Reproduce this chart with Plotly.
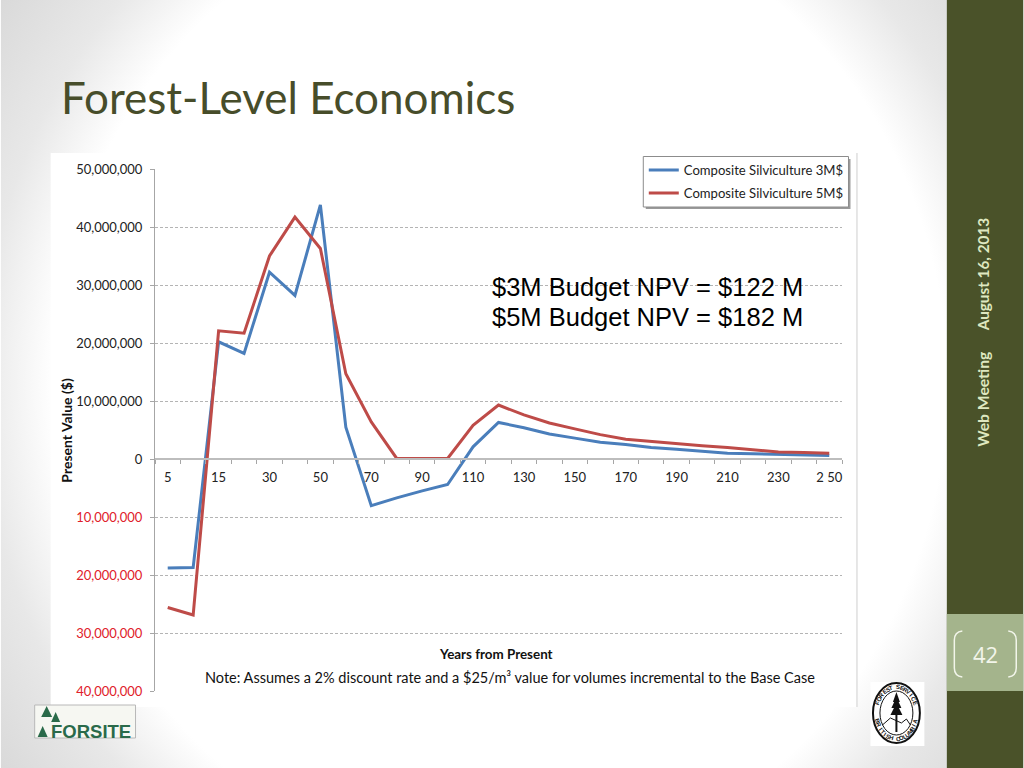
import math
import plotly.graph_objects as go

years = ["5","10","15","20","30","40","50","60","70","80","90","100","110","120","130","140","150","160","170","180","190","200","210","220","230","240","250"]
silv_3m = [-18.8,-18.7,20.2,18.2,32.2,28.2,43.8,5.5,-8.05,-6.7,-5.5,-4.4,2.1,6.3,5.4,4.3,3.6,2.9,2.5,2.0,1.7,1.3,1.0,0.9,0.8,0.7,0.6]
silv_5m = [-25.6,-26.9,22.1,21.7,35.0,41.7,36.3,14.7,6.4,0.1,0.1,0.1,5.8,9.3,7.6,6.2,5.2,4.2,3.4,3.0,2.7,2.3,2.0,1.6,1.2,1.1,1.0]
y_ticks = [50,40,30,20,10,0,-10,-20,-30,-40]
y_labels = ["50,000,000","40,000,000","30,000,000","20,000,000","10,000,000","0","10,000,000","20,000,000","30,000,000","40,000,000"]
x_labels = ["5","","15","","30","","50","","70","","90","","110","","130","","150","","170","","190","","210","","230","","2 50"]

L, R, T, B = 154.5, 842.5, 169.0, 691.0
def fx(p): return (p - L) / (R - L)
def fy(p): return (B - p) / (B - T)

OLIVE = "#4a5229"
shapes, anns = [], []
def rect(x0, y0, x1, y1, fill, line=None, lw=1, layer="above"):
    shapes.append(dict(type="rect", xref="paper", yref="paper", x0=fx(x0), x1=fx(x1), y0=fy(y0), y1=fy(y1),
                       fillcolor=fill, line=dict(color=line or fill, width=lw if line else 0), layer=layer))
def path(pts, fill=None, line=None, lw=1, layer="above"):
    shapes.append(dict(type="path", xref="paper", yref="paper", path=pts, fillcolor=fill or "rgba(0,0,0,0)",
                       line=dict(color=line or "rgba(0,0,0,0)", width=lw), layer=layer))
def P(x, y): return f"{fx(x):.5f},{fy(y):.5f}"
def tri(x, y0, y1, hw, col):
    path(f"M{P(x,y0)} L{P(x+hw,y1)} L{P(x-hw,y1)} Z", fill=col)
def ell(cx, cy, rx, ry, fill, line, lw):
    shapes.append(dict(type="circle", xref="paper", yref="paper", x0=fx(cx-rx), x1=fx(cx+rx), y0=fy(cy+ry), y1=fy(cy-ry),
                       fillcolor=fill, line=dict(color=line, width=lw), layer="above"))
def text(x, y, s, size, color, font="Lato", xa="center", angle=0, ya="middle"):
    anns.append(dict(xref="paper", yref="paper", x=fx(x), y=fy(y), text=s, showarrow=False, xanchor=xa, yanchor=ya,
                     textangle=angle, font=dict(family=font, size=size, color=color)))

# chart card
rect(50, 153, 858, 707, "white", layer="below")
shapes.append(dict(type="line", xref="paper", yref="paper", x0=fx(857.5), x1=fx(857.5), y0=fy(153), y1=fy(707),
                   line=dict(color="#cfcfcf", width=1), layer="below"))
# side panel
rect(947.5, 0, 1024, 768, OLIVE)
rect(947.5, 614, 1024, 691, "#a4b48c")
path(f"M{P(963,631)} Q{P(955,632)} {P(955,640)} L{P(955,668)} Q{P(955,676)} {P(963,677)}", line="#f2f5ea", lw=1.5)
path(f"M{P(1009,631)} Q{P(1017,632)} {P(1017,640)} L{P(1017,668)} Q{P(1017,676)} {P(1009,677)}", line="#f2f5ea", lw=1.5)
text(986, 654, "42", 22, "#f2f5ea", font="Open Sans")
text(983.5, 274.5, "<b>August 16, 2013</b>", 15.3, "#dfe8c0", font="Lato", angle=-90)
text(983.5, 399, "<b>Web Meeting</b>", 15.7, "#dfe8c0", font="Lato", angle=-90)
# title
text(58.5, 97, "Forest-Level Economics", 44, "#474d2a", xa="left")
# legend box
rect(646, 159, 851, 209, "#9a9a9a")
rect(643.5, 156.5, 849, 207, "white", line="#8c8c8c", lw=1)
# texts
text(490, 287, "$3M Budget NPV = $122 M", 25.5, "black", font="Liberation Sans", xa="left")
text(490, 317, "$5M Budget NPV = $182 M", 25.5, "black", font="Liberation Sans", xa="left")
text(495.5, 654, "<b>Years from Present</b>", 13.4, "#111111")
text(510.5, 677, "Note: Assumes a 2% discount rate and a $25/m³ value for volumes incremental to the Base Case", 14.5, "#111111")
text(65, 430, "<b>Present Value ($)</b>", 14, "#111111", angle=-90)
# FORSITE logo
rect(34, 705, 135, 738, "#f6f7f2", line="#b8b8b8", lw=1)
G = "#2a6a4a"
tri(46, 706, 717, 5.5, G); tri(55, 712, 722, 4.5, G); tri(42, 726, 737, 5, G)
text(90, 731.5, "<b>FORSITE</b>", 18.5, G, font="Liberation Sans")
# Forest Service seal
rect(871, 682, 925, 746, "white")
cx, cy = 897, 713
ell(cx, cy, 23.5, 30, "white", "#111111", 2)
ell(cx, cy, 16.5, 22, "white", "#111111", 1)
for i, ch in enumerate("FOREST SERVICE"):
    th = math.radians(-68 + i * 136 / 13)
    text(cx + 20 * math.sin(th), cy - 26 * math.cos(th), f"<b>{ch}</b>", 6, "#111111", font="Liberation Sans", angle=math.degrees(th))
for i, ch in enumerate("BRITISH COLUMBIA"):
    ph = math.radians(-72 + i * 144 / 15)
    text(cx + 20 * math.sin(ph), cy + 26 * math.cos(ph), f"<b>{ch}</b>", 6, "#111111", font="Liberation Sans", angle=-math.degrees(ph))
for y0, y1, hw in [(692, 702, 3.5), (697, 708, 5), (703, 715, 6)]:
    tri(cx, y0, y1, hw, "#111111")
rect(cx - 1, 712, cx + 1, 732, "#111111")
path(f"M{P(cx-14,725)} L{P(cx-6,718)} L{P(cx+5,723)} L{P(cx+10,719)} L{P(cx+14,725)}", line="#111111", lw=1)

bg = ("data:image/svg+xml;utf8," +
      "<svg xmlns='http://www.w3.org/2000/svg' width='1024' height='768'>"
      "<defs><radialGradient id='g' gradientUnits='userSpaceOnUse' cx='0' cy='0' r='1.4' "
      "gradientTransform='translate(500 384) scale(470 511)'>"
      "<stop offset='0.68' stop-color='%23ffffff'/><stop offset='0.79' stop-color='%23e8e8e8'/>"
      "<stop offset='1' stop-color='%23d2d2d2'/></radialGradient></defs>"
      "<rect width='1024' height='768' fill='url(%23g)'/></svg>")

fig = go.Figure()
fig.add_trace(go.Scatter(x=years, y=[v * 1e6 for v in silv_3m], mode="lines", name="Composite Silviculture 3M$", legendgroup="a",
                         line=dict(color="#4a7ebb", width=3), cliponaxis=False))
fig.add_trace(go.Scatter(x=years, y=[v * 1e6 for v in silv_5m], mode="lines", name="Composite Silviculture 5M$", legendgroup="b",
                         line=dict(color="#be4b48", width=3), cliponaxis=False))

def y_text(v, s):
    return f'<span style="color:#e0202a">{s}</span>' if v < 0 else s

fig.update_layout(
    width=1024, height=768, autosize=False,
    margin=dict(l=L, r=1024 - R, t=T, b=768 - B, pad=0),
    paper_bgcolor="white", plot_bgcolor="rgba(0,0,0,0)",
    font=dict(family="Lato", size=13, color="#222222"),
    images=[dict(source=bg, xref="paper", yref="paper", x=fx(0), y=fy(0), sizex=1024 / (R - L), sizey=768 / (B - T),
                 sizing="stretch", xanchor="left", yanchor="top", layer="below")],
    shapes=shapes, annotations=anns,
    legend=dict(x=fx(644), y=fy(155), xanchor="left", yanchor="top", bgcolor="rgba(0,0,0,0)", borderwidth=0,
                font=dict(family="Lato", size=13.1, color="#222222"), itemwidth=30, tracegroupgap=3, traceorder="grouped"),
    xaxis=dict(type="category", categoryorder="array", categoryarray=years, range=[-0.5, 26.5],
               tickmode="array", tickvals=years, ticktext=x_labels, tickson="boundaries", ticks="outside", ticklen=4,
               tickcolor="#a6a6a6", showline=True, linecolor="#bdbdbd", linewidth=1.5, showgrid=False, zeroline=False,
               anchor="free", position=(B - 459) / (B - T), ticklabelstandoff=7, tickangle=0,
               tickfont=dict(family="Lato", size=13, color="#222222")),
    yaxis=dict(range=[-40e6, 50e6], tickmode="array", tickvals=[v * 1e6 for v in y_ticks],
               ticktext=[y_text(v, s) for v, s in zip(y_ticks, y_labels)],
               ticks="outside", ticklen=4, tickcolor="#a6a6a6", showline=True, linecolor="#a6a6a6", linewidth=1,
               showgrid=True, gridcolor="#b4b4b4", griddash="3px,2px", gridwidth=1, zeroline=False, ticklabelstandoff=5,
               tickfont=dict(family="Lato", size=13, color="#222222")),
)
fig.write_html("out.html", config=dict(displayModeBar=False),
               post_script="document.body.style.margin='0';document.body.style.overflow='hidden';")
